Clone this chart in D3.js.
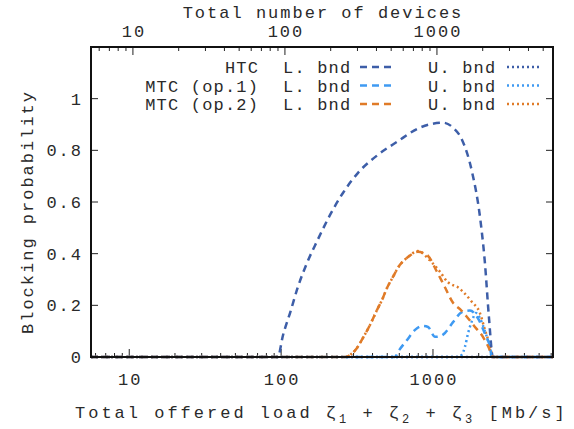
<!DOCTYPE html>
<html>
<head>
<meta charset="utf-8">
<script src="https://cdn.jsdelivr.net/npm/d3@7"></script>
<style>
  html, body { margin: 0; padding: 0; background: #fff; }
  svg text { font-family: "Liberation Mono", "DejaVu Sans Mono", monospace; fill: #2a2a2a; }
</style>
</head>
<body>
<svg id="chart" width="574" height="429"></svg>
<script>
// Offered load (Mb/s) and blocking probability for each bound
const htcLowX = [5.6, 95, 103, 115, 129, 148, 173, 210, 256, 321, 435, 580, 821, 1164, 1355, 1552, 1807, 2039, 2198, 2335, 2481, 6170];
const htcLowY = [0, 0, 0.085, 0.174, 0.271, 0.364, 0.450, 0.550, 0.636, 0.713, 0.783, 0.833, 0.888, 0.907, 0.888, 0.841, 0.717, 0.543, 0.364, 0.155, 0, 0];
const htcUpX = [5.6, 6170];
const htcUpY = [0, 0];

const mtc1LowX = [5.6, 562, 589, 675, 762, 848, 928, 1031, 1112, 1199, 1355, 1552, 1751, 1977, 2198, 2371, 2444, 6170];
const mtc1LowY = [0, 0, 0.02, 0.066, 0.105, 0.12, 0.116, 0.078, 0.08, 0.093, 0.135, 0.174, 0.18, 0.15, 0.09, 0.04, 0, 0];
const mtc1UpX = [5.6, 1459, 1552, 1625, 1699, 1807, 1919, 2039, 2198, 2335, 2444, 6170];
const mtc1UpY = [0, 0, 0.01, 0.04, 0.09, 0.14, 0.17, 0.15, 0.10, 0.05, 0, 0];

const mtc2LowX = [5.6, 264, 285, 316, 346, 385, 428, 462, 498, 545, 606, 675, 796, 914, 1062, 1199, 1355, 1507, 1675, 1890, 2133, 2335, 2481, 6170];
const mtc2LowY = [0, 0, 0.008, 0.035, 0.074, 0.124, 0.182, 0.221, 0.267, 0.310, 0.357, 0.384, 0.407, 0.395, 0.330, 0.270, 0.210, 0.185, 0.155, 0.116, 0.078, 0.035, 0, 0];
const mtc2UpX = [5.6, 264, 285, 316, 346, 385, 428, 462, 498, 545, 606, 675, 796, 950, 1112, 1250, 1355, 1459, 1580, 1807, 2039, 2198, 2371, 2481, 6170];
const mtc2UpY = [0, 0, 0.008, 0.035, 0.074, 0.124, 0.182, 0.221, 0.267, 0.310, 0.357, 0.384, 0.410, 0.375, 0.330, 0.290, 0.278, 0.270, 0.252, 0.213, 0.170, 0.105, 0.045, 0, 0];

const yTicks = [0, 0.2, 0.4, 0.6, 0.8, 1];
const xTickLabels = [10, 100, 1000];
const deviceTickLabels = [10, 100, 1000];
const legendNames = ["HTC", "MTC (op.1)", "MTC (op.2)"];
const colors = ["#3d5ea8", "#3f9af2", "#e07b28"];

const svg = d3.select("#chart");
const plotLeft = 91, plotRight = 553, plotTop = 47, plotBottom = 357;

const x = d3.scaleLog().domain([5.6, 6170]).range([plotLeft, plotRight]);
const x2 = d3.scaleLog().domain([5.3, 5800]).range([plotLeft, plotRight]);
const y = d3.scaleLinear().domain([0, 1.2]).range([plotBottom, plotTop]);

// Minor/major log ticks for a scale
function logTicks(scale) {
  const [a, b] = scale.domain();
  const out = [];
  for (let e = Math.floor(Math.log10(a)); e <= Math.ceil(Math.log10(b)); e++) {
    for (let m = 1; m <= 9; m++) {
      const v = m * Math.pow(10, e);
      if (v >= a && v <= b) out.push({ v, major: m === 1 });
    }
  }
  return out;
}

const ticksG = svg.append("g").attr("stroke", "#222").attr("stroke-width", 1);
logTicks(x).forEach(t => {
  const len = t.major ? 8 : 4;
  ticksG.append("line").attr("x1", x(t.v)).attr("x2", x(t.v)).attr("y1", plotBottom).attr("y2", plotBottom - len);
});
logTicks(x2).forEach(t => {
  const len = t.major ? 8 : 4;
  ticksG.append("line").attr("x1", x2(t.v)).attr("x2", x2(t.v)).attr("y1", plotTop).attr("y2", plotTop + len);
});
yTicks.forEach(v => {
  ticksG.append("line").attr("x1", plotLeft).attr("x2", plotLeft + 7).attr("y1", y(v)).attr("y2", y(v));
  ticksG.append("line").attr("x1", plotRight).attr("x2", plotRight - 7).attr("y1", y(v)).attr("y2", y(v));
});

// Curves
const line = d3.line().x(d => x(d[0])).y(d => y(d[1])).curve(d3.curveMonotoneX);
const series = [
  { xs: htcUpX, ys: htcUpY, c: colors[0], dash: "2,3" },
  { xs: mtc1UpX, ys: mtc1UpY, c: colors[1], dash: "2,3" },
  { xs: mtc2UpX, ys: mtc2UpY, c: colors[2], dash: "2,3" },
  { xs: htcLowX, ys: htcLowY, c: colors[0], dash: "7,5" },
  { xs: mtc1LowX, ys: mtc1LowY, c: colors[1], dash: "7,5" },
  { xs: mtc2LowX, ys: mtc2LowY, c: colors[2], dash: "7,5" }
];
const curveG = svg.append("g");
series.forEach(s => {
  curveG.append("path")
    .datum(d3.zip(s.xs, s.ys))
    .attr("fill", "none")
    .attr("stroke", s.c)
    .attr("stroke-width", 2.5)
    .attr("stroke-dasharray", s.dash)
    .attr("d", line);
});

// Frame
svg.append("rect").attr("x", plotLeft).attr("y", plotTop)
  .attr("width", plotRight - plotLeft).attr("height", plotBottom - plotTop)
  .attr("fill", "none").attr("stroke", "#111").attr("stroke-width", 2);

// Text: a compact monospace face spread out to a wide Courier-like pitch
const fs = 17, ls = 2;
const lab = svg.append("g").style("font-size", fs + "px").style("letter-spacing", ls + "px");
xTickLabels.forEach(v => {
  lab.append("text").attr("x", x(v) + ls / 2).attr("y", 385).attr("text-anchor", "middle").text(v);
});
deviceTickLabels.forEach(v => {
  lab.append("text").attr("x", x2(v) + ls / 2).attr("y", 37).attr("text-anchor", "middle").text(v);
});
yTicks.forEach(v => {
  lab.append("text").attr("x", 81 + ls).attr("y", y(v) + 6).attr("text-anchor", "end")
    .text(v === 0 ? "0" : (v === 1 ? "1" : v.toFixed(1)));
});

// Axis titles
const t1 = lab.append("text").attr("x", 75).attr("y", 418).style("letter-spacing", "3px");
t1.append("tspan").text("Total offered load \u03B6");
t1.append("tspan").attr("dy", 5).style("font-size", "12px").text("1");
t1.append("tspan").attr("dy", -5).text(" + \u03B6");
t1.append("tspan").attr("dy", 5).style("font-size", "12px").text("2");
t1.append("tspan").attr("dy", -5).text(" + \u03B6");
t1.append("tspan").attr("dy", 5).style("font-size", "12px").text("3");
t1.append("tspan").attr("dy", -5).text(" [Mb/s]");

lab.append("text").attr("x", 323).attr("y", 18).attr("text-anchor", "middle").text("Total number of devices");
lab.append("text").attr("transform", "translate(33,212) rotate(-90)").attr("text-anchor", "middle").text("Blocking probability");

// Legend
const lls = 1.2;
const leg = svg.append("g").style("font-size", fs + "px").style("letter-spacing", lls + "px");
legendNames.forEach((name, i) => {
  const yy = 67 + i * 18.5;
  leg.append("text").attr("x", 258 + lls).attr("y", yy + 6).attr("text-anchor", "end").text(name);
  leg.append("text").attr("x", 283).attr("y", yy + 6).text("L. bnd");
  leg.append("line").attr("x1", 360).attr("x2", 393).attr("y1", yy).attr("y2", yy)
    .attr("stroke", colors[i]).attr("stroke-width", 2.5).attr("stroke-dasharray", "7,5");
  leg.append("text").attr("x", 428).attr("y", yy + 6).text("U. bnd");
  leg.append("line").attr("x1", 507).attr("x2", 541).attr("y1", yy).attr("y2", yy)
    .attr("stroke", colors[i]).attr("stroke-width", 2.5).attr("stroke-dasharray", "2,3");
});
</script>
</body>
</html>
